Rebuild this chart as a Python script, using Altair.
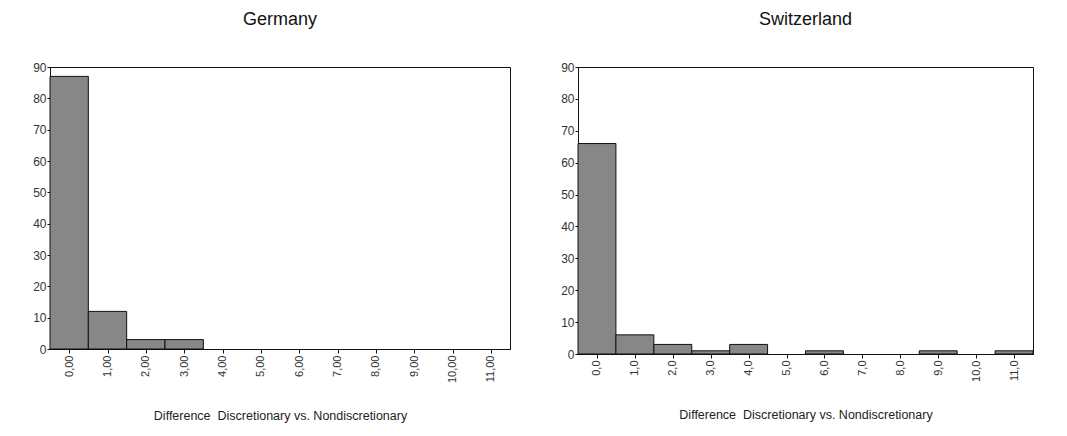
import altair as alt
import pandas as pd

# Data
bins = list(range(12))
germany_counts = [87, 12, 3, 3, 0, 0, 0, 0, 0, 0, 0, 0]
switzerland_counts = [66, 6, 3, 1, 3, 0, 1, 0, 0, 1, 0, 1]
panel_titles = ["Germany", "Switzerland"]
x_title = "Difference\u00a0 Discretionary vs. Nondiscretionary"
y_ticks = list(range(0, 91, 10))

FONT = "Liberation Sans"


def panel(counts, title, decimals, w, h, title_y):
    df = pd.DataFrame({"value": bins, "count": counts})
    label_expr = f"replace(format(datum.value, '.{decimals}f'), '.', ',')"
    return (
        alt.Chart(df)
        .transform_filter("datum.count > 0")
        .transform_calculate(start="datum.value - 0.5", end="datum.value + 0.5")
        .mark_bar(color="#878787", stroke="#111111", strokeWidth=1, opacity=1)
        .encode(
            x=alt.X(
                "start:Q",
                scale=alt.Scale(domain=[-0.5, 11.5], nice=False, zero=False),
                axis=alt.Axis(
                    values=bins,
                    labelExpr=label_expr,
                    labelAngle=270,
                    labelFontSize=11,
                    labelPadding=2,
                    tickSize=4,
                    grid=False,
                    title=x_title,
                    titleFontSize=12.5,
                    titleFontWeight="normal",
                    titleColor="#222222",
                    titleY=title_y,
                    titleBaseline="middle",
                ),
            ),
            x2="end:Q",
            y=alt.Y(
                "count:Q",
                scale=alt.Scale(domain=[0, 90], nice=False),
                axis=alt.Axis(
                    values=y_ticks,
                    grid=False,
                    title=None,
                    labelFontSize=12,
                    labelPadding=1,
                    tickSize=3,
                ),
            ),
            y2=alt.datum(0),
        )
        .properties(
            width=w,
            height=h,
            title=alt.TitleParams(
                title, fontSize=18, fontWeight="normal", color="#111111",
                font=FONT, anchor="middle", offset=32,
            ),
        )
    )


left = panel(germany_counts, panel_titles[0], 2, 460, 282, 66)
right = panel(switzerland_counts, panel_titles[1], 1, 455, 287, 60)

chart = (
    alt.hconcat(left, right, spacing=49)
    .properties(padding={"left": 24, "top": 2, "right": 5, "bottom": 5}, background="white")
    .configure_view(stroke="#111111", strokeWidth=1)
    .configure_axis(
        labelFont=FONT,
        titleFont=FONT,
        labelColor="#333333",
        domainColor="#111111",
        tickColor="#111111",
        domainWidth=1,
        tickWidth=1,
    )
)

chart.save("out.html", embed_options={"renderer": "svg", "actions": False})
